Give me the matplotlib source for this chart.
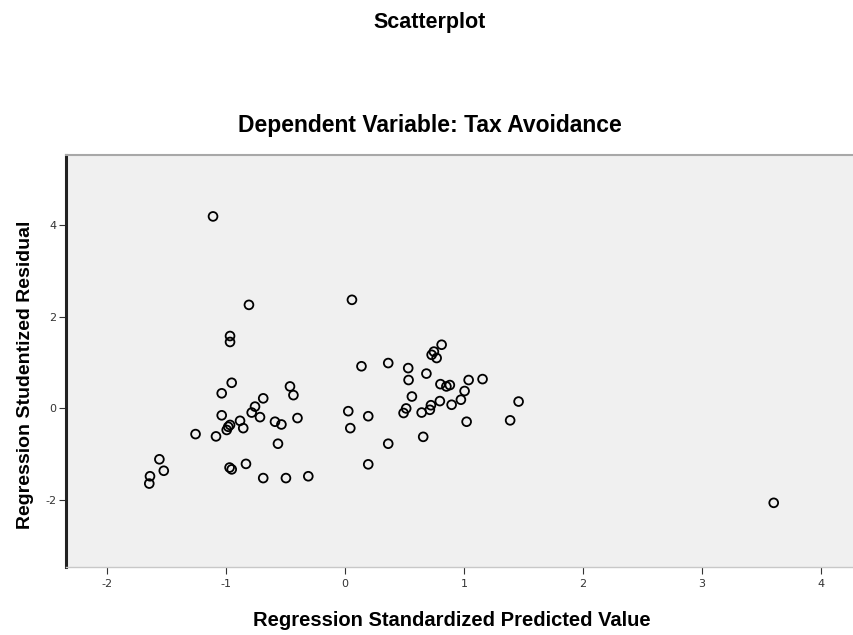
import matplotlib.pyplot as plt

plt.rcParams['axes.unicode_minus'] = False

# Regression standardized predicted value (x) vs studentized residual (y)
pred = [-1.109, -0.807, -0.966, -0.966, 0.059, -0.952, -1.036, -0.687, -0.462, -0.433,
        -0.756, -0.784, -0.714, -1.036, -0.981, -0.966, -0.994, -0.882, -0.855, -0.588,
        -0.534, -0.399, -1.256, -1.084, -0.563, -1.560, -1.523, -1.639, -1.645, -0.970,
        -0.952, -0.832, -0.687, -0.496, -0.308, 0.139, 0.364, 0.532, 0.535, 0.685,
        0.748, 0.813, 0.771, 0.729, 1.157, 1.040, 1.006, 0.975, 0.803, 0.853,
        0.882, 0.563, 0.798, 0.897, 0.723, 0.714, 0.645, 0.515, 0.493, 0.028,
        0.196, 0.045, 1.023, 1.460, 1.389, 0.658, 0.364, 0.196, 3.605]
resid = [4.19, 2.26, 1.58, 1.45, 2.37, 0.56, 0.33, 0.22, 0.48, 0.29,
         0.04, -0.09, -0.19, -0.15, -0.40, -0.36, -0.47, -0.27, -0.43, -0.29,
         -0.35, -0.21, -0.56, -0.61, -0.77, -1.11, -1.36, -1.48, -1.64, -1.29,
         -1.33, -1.21, -1.52, -1.52, -1.48, 0.92, 0.99, 0.88, 0.62, 0.76,
         1.24, 1.39, 1.10, 1.17, 0.64, 0.62, 0.38, 0.19, 0.53, 0.48,
         0.51, 0.26, 0.16, 0.08, 0.07, -0.03, -0.09, 0.00, -0.10, -0.06,
         -0.17, -0.43, -0.29, 0.15, -0.26, -0.62, -0.77, -1.22, -2.06]

xticks = [-2, -1, 0, 1, 2, 3, 4]
yticks = [-2, 0, 2, 4]

fig = plt.figure(figsize=(8.54, 6.35), dpi=100)
ax = fig.add_axes([0.0773, 0.1071, 0.9227, 0.6488])
ax.set_facecolor('#f0f0f0')

ax.scatter(pred, resid, s=40, facecolors='none', edgecolors='black', linewidths=1.3)

ax.set_xlim(-2.345, 4.28)
ax.set_ylim(-3.46, 5.53)
ax.set_xticks(xticks)
ax.set_yticks(yticks)
ax.tick_params(axis='both', labelsize=8, colors='#333333', length=5, width=0.8)
ax.tick_params(axis='y', pad=2)

ax.spines['right'].set_visible(False)
ax.spines['left'].set_linewidth(2.2)
ax.spines['left'].set_color('#222222')
ax.spines['top'].set_linewidth(1.5)
ax.spines['top'].set_color('#a8a8a8')
ax.spines['bottom'].set_linewidth(1.0)
ax.spines['bottom'].set_color('#c8c8c8')

ax.set_xlabel("Regression Standardized Predicted Value", fontsize=14.5,
              fontweight='bold', family='Liberation Sans', va='center')
ax.xaxis.set_label_coords(0.4895, -0.131)
ax.set_ylabel("Regression Studentized Residual", fontsize=14,
              fontweight='bold', family='Liberation Sans', va='center')
ax.yaxis.set_label_coords(-0.052, 0.466)

fig.text(0.503, 0.965, "Scatterplot", ha='center', va='center',
         fontsize=15.5, fontweight='bold', family='Liberation Sans')
fig.text(0.503, 0.803, "Dependent Variable: Tax Avoidance", ha='center', va='center',
         fontsize=16.5, fontweight='bold', family='Liberation Sans')

fig.savefig("out.png", dpi=100, facecolor='white')
